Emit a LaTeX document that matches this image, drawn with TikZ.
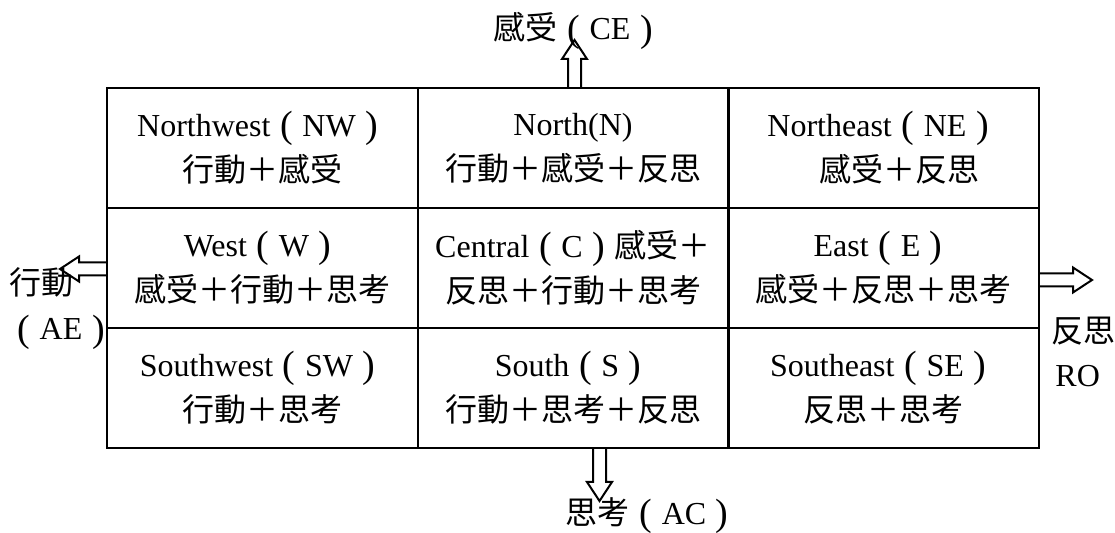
\documentclass[tikz,border=0pt]{standalone}
\usepackage{fontspec}
\setmainfont{Liberation Serif}
\newfontfamily\zh{Noto Sans CJK TC}
\newcommand{\zw}[1]{{\zh #1}}
\newcommand{\lp}{\makebox[1em]{\raisebox{-0.6pt}{\fontsize{19}{19}\selectfont(}}}
\newcommand{\rp}{\makebox[1em]{\raisebox{-0.6pt}{\fontsize{19}{19}\selectfont)}}}
\begin{document}
\begin{tikzpicture}[
			x=0.5pt, y=-0.5pt,
			every node/.style={font=\fontsize{16}{22.5}\selectfont},
			cell/.style={draw, line width=1pt, minimum width=155.5pt, minimum height=60pt, inner sep=0pt, align=center},
			label text/.style={inner sep=0pt},
			hollow arrow/.pic={
					\draw[line width=1pt, line join=miter]
					(-6.5,0) -- (-6.5,-#1+19) -- (-12.5,-#1+19) -- (0,-#1)
					-- (12.5,-#1+19) -- (6.5,-#1+19) -- (6.5,0);
				}
		]
		\useasboundingbox (0,0) rectangle (1115,533);
		% the nine cells
		\node[cell] (nw) at (262.5,148) {Northwest\lp NW\rp\\\zw{行動＋感受}};
		\node[cell] (n) at (573,148) {North(N)\\\zw{行動＋感受＋反思}};
		\node[cell] (ne) at (883,148) {Northeast\lp NE\rp\\\hspace*{1em}\zw{感受＋反思}};
		\node[cell] (w) at (262.5,268) {West\lp W\rp\\\zw{感受＋行動＋思考}};
		\node[cell] (c) at (573,268) {Central\lp C\rp\zw{感受＋}\\\zw{反思＋行動＋思考}};
		\node[cell] (e) at (883,268) {East\lp E\rp\\\zw{感受＋反思＋思考}};
		\node[cell] (sw) at (262.5,388) {Southwest\lp SW\rp\\\zw{行動＋思考}};
		\node[cell] (s) at (573,388) {South\lp S\rp\\\zw{行動＋思考＋反思}};
		\node[cell] (se) at (883,388) {Southeast\lp SE\rp\\\zw{反思＋思考}};
		% outer labels
		\node[label text] (ce text) at (578,31) {\zw{感受}\lp CE\rp};
		\node[label text] (ae top) at (42,282) {\zw{行動}};
		\node[label text] (ae bottom) at (61,332) {\lp AE\rp};
		\node[label text, anchor=west] (ro top) at (1051,331) {\zw{反思}};
		\node[label text, anchor=west] (ro bottom) at (1055,376) {RO};
		\node[label text] (ac text) at (652,516) {\zw{思考}\lp AC\rp};
		% arrows out of the grid
		\coordinate (ce) at (574.5,88);
		\coordinate (ae) at (107,269);
		\coordinate (ro) at (1038,280);
		\coordinate (ac) at (599.5,448);
		\pic at (ce) {hollow arrow=48};
		\pic[rotate=90] at (ae) {hollow arrow=47};
		\pic[rotate=-90] at (ro) {hollow arrow=54};
		\pic[rotate=180] at (ac) {hollow arrow=53};
	\end{tikzpicture}
\end{document}
